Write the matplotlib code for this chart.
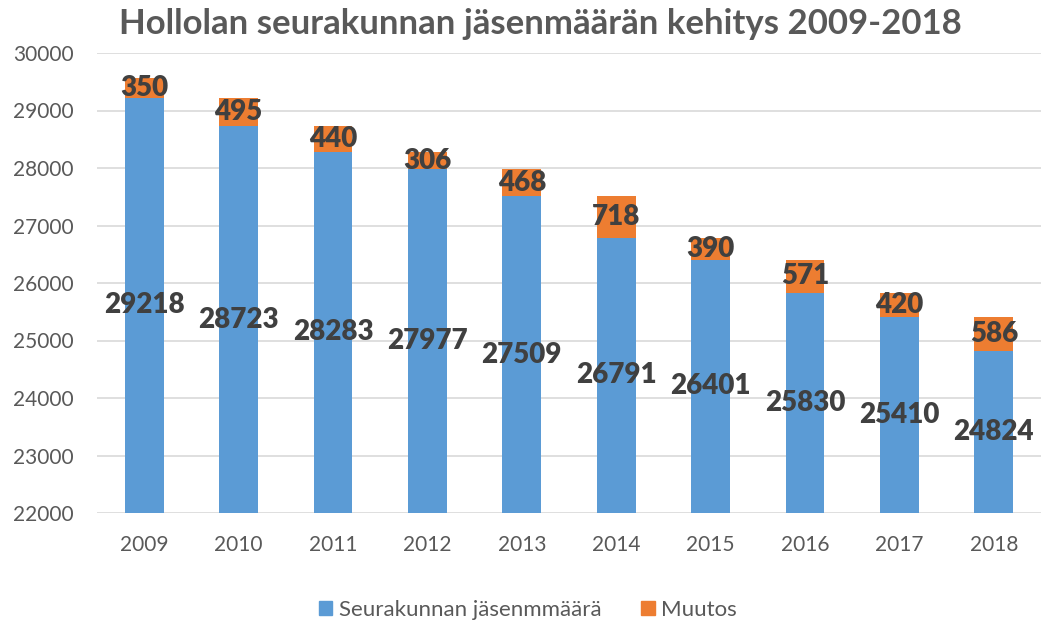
import numpy as np
import matplotlib.pyplot as plt
from matplotlib.patches import Patch

plt.rcParams['font.family'] = ['Lato', 'DejaVu Sans']

years = ['2009', '2010', '2011', '2012', '2013', '2014', '2015', '2016', '2017', '2018']
members = [29218, 28723, 28283, 27977, 27509, 26791, 26401, 25830, 25410, 24824]
change = [350, 495, 440, 306, 468, 718, 390, 571, 420, 586]

blue = '#5B9BD5'
orange = '#ED7D31'
label_col = '#404040'
text_col = '#595959'

fig = plt.figure(figsize=(10.44, 6.23), dpi=100)
ax = fig.add_axes([97 / 1044, 1 - 513 / 623, 944 / 1044, 460 / 623])

ymin, ymax = 22000, 30000
x = np.arange(len(years))
w = 0.41

ax.bar(x, np.array(members) - ymin, w, bottom=ymin, color=blue, zorder=2)
ax.bar(x, change, w, bottom=members, color=orange, zorder=2)

for i in range(len(years)):
    ax.text(x[i], (ymin + members[i]) / 2, str(members[i]), ha='center', va='center',
            fontsize=20, fontweight='heavy', color=label_col, zorder=3)
    ax.text(x[i], members[i] + change[i] / 2, str(change[i]), ha='center', va='center',
            fontsize=20, fontweight='heavy', color=label_col, zorder=3)

ax.set_xlim(-0.5, len(years) - 0.5)
ax.set_ylim(ymin, ymax)
ax.set_yticks(range(ymin, ymax + 1, 1000))
ax.set_xticks(x)
ax.set_xticklabels(years)
ax.tick_params(axis='both', length=0, labelsize=15, labelcolor=text_col)
ax.tick_params(axis='x', pad=16)
ax.tick_params(axis='y', pad=17)
ax.yaxis.grid(True, color='#D9D9D9', linewidth=1.2, zorder=0)
ax.set_axisbelow(True)
for s in ax.spines.values():
    s.set_visible(False)

fig.text(540 / 1044, 1 - 24 / 623, 'Hollolan seurakunnan jäsenmäärän kehitys 2009-2018',
         ha='center', va='center', fontsize=25, fontweight='bold', color=text_col)

handles = [Patch(color=blue, label='Seurakunnan jäsenmmäärä'),
           Patch(color=orange, label='Muutos')]
leg = fig.legend(handles=handles, loc='center', bbox_to_anchor=(528 / 1044, 1 - 610 / 623),
                 ncol=2, frameon=False, fontsize=16, handlelength=0.6, handleheight=0.6,
                 handletextpad=0.3, columnspacing=1.8)
for t in leg.get_texts():
    t.set_color(text_col)

fig.savefig('out.png', dpi=100)
